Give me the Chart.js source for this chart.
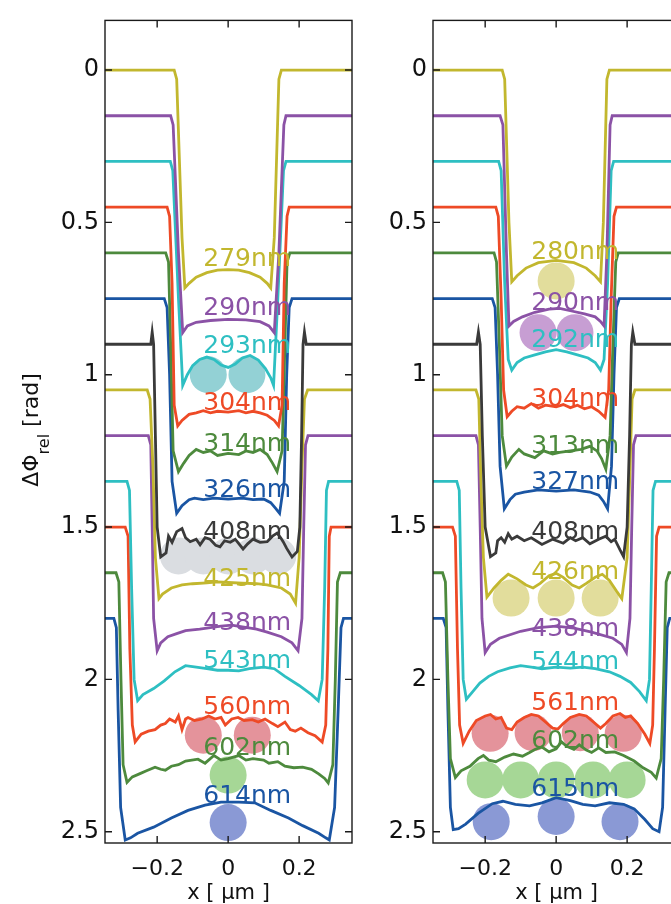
<!DOCTYPE html>
<html>
<head>
<meta charset="utf-8">
<script src="https://cdn.jsdelivr.net/npm/chart.js@4.4.1/dist/chart.umd.min.js"></script>
<style>
    html, body { margin: 0; padding: 0; background: #fff; overflow: hidden; }
    body { width: 671px; height: 904px; position: relative; }
    canvas { position: absolute; top: 0; }
    #chart-left { left: 0; }
    #chart-right { left: 370px; }
</style>
</head>
<body>
<canvas id="chart-left" width="360" height="904"></canvas>
<canvas id="chart-right" width="320" height="904"></canvas>
<script>
// ---- axes ----
const xTicks = [-0.2, 0, 0.2];
const xTickLabels = ['\u22120.2', '0', '0.2'];
const yTicks = [0, 0.5, 1, 1.5, 2, 2.5];
const yTickLabels = ['0', '0.5', '1', '1.5', '2', '2.5'];

// ---- left panel: phase profiles, [x (um), dPhi (rad)] ----
const left279 = [[-0.35,0],[-0.152,0],[-0.145,0.03],[-0.13,0.55],[-0.122,0.715],[-0.11,0.7],[-0.09,0.68],[-0.06,0.665],[-0.03,0.657],[0,0.655],[0.03,0.657],[0.06,0.665],[0.09,0.68],[0.11,0.7],[0.12,0.715],[0.13,0.55],[0.143,0.03],[0.15,0],[0.35,0]];
const left290 = [[-0.35,0.15],[-0.162,0.15],[-0.155,0.18],[-0.14,0.6],[-0.128,0.862],[-0.115,0.84],[-0.09,0.828],[-0.05,0.822],[0,0.818],[0.05,0.82],[0.09,0.826],[0.115,0.84],[0.13,0.862],[0.143,0.6],[0.157,0.18],[0.163,0.15],[0.35,0.15]];
const left293 = [[-0.35,0.3],[-0.163,0.3],[-0.156,0.33],[-0.14,0.75],[-0.128,1.035],[-0.115,1.0],[-0.1,0.97],[-0.08,0.95],[-0.06,0.942],[-0.04,0.95],[-0.02,0.968],[0,0.976],[0.02,0.965],[0.04,0.945],[0.062,0.937],[0.085,0.952],[0.105,0.98],[0.12,1.01],[0.128,1.035],[0.14,0.75],[0.156,0.33],[0.163,0.3],[0.35,0.3]];
const left304 = [[-0.35,0.45],[-0.172,0.45],[-0.165,0.48],[-0.158,0.7],[-0.152,1.1],[-0.142,1.168],[-0.13,1.15],[-0.11,1.13],[-0.09,1.125],[-0.07,1.118],[-0.05,1.125],[-0.03,1.12],[0,1.123],[0.03,1.118],[0.05,1.125],[0.07,1.12],[0.09,1.125],[0.11,1.133],[0.13,1.15],[0.142,1.168],[0.152,1.1],[0.158,0.7],[0.166,0.48],[0.172,0.45],[0.35,0.45]];
const left314 = [[-0.35,0.6],[-0.176,0.6],[-0.168,0.63],[-0.162,0.9],[-0.155,1.25],[-0.14,1.318],[-0.125,1.29],[-0.11,1.265],[-0.09,1.245],[-0.07,1.255],[-0.05,1.25],[-0.03,1.265],[0,1.258],[0.03,1.262],[0.05,1.25],[0.07,1.255],[0.09,1.245],[0.11,1.262],[0.125,1.29],[0.138,1.318],[0.152,1.25],[0.16,0.9],[0.166,0.63],[0.174,0.6],[0.35,0.6]];
const left326 = [[-0.35,0.75],[-0.18,0.75],[-0.172,0.78],[-0.165,1.0],[-0.158,1.35],[-0.145,1.455],[-0.13,1.43],[-0.11,1.41],[-0.095,1.405],[-0.07,1.41],[-0.04,1.405],[0,1.408],[0.04,1.405],[0.07,1.41],[0.1,1.408],[0.12,1.42],[0.135,1.44],[0.145,1.455],[0.158,1.35],[0.165,1.0],[0.172,0.78],[0.18,0.75],[0.35,0.75]];
const left408 = [[-0.35,0.9],[-0.218,0.9],[-0.214,0.86],[-0.21,0.9],[-0.205,1.2],[-0.2,1.5],[-0.19,1.598],[-0.175,1.585],[-0.168,1.53],[-0.158,1.55],[-0.145,1.515],[-0.13,1.505],[-0.12,1.535],[-0.107,1.548],[-0.09,1.54],[-0.079,1.558],[-0.065,1.535],[-0.051,1.54],[-0.035,1.56],[-0.023,1.565],[-0.01,1.545],[0.006,1.55],[0.02,1.54],[0.042,1.572],[0.055,1.555],[0.07,1.54],[0.09,1.55],[0.11,1.548],[0.125,1.53],[0.138,1.52],[0.148,1.535],[0.155,1.548],[0.165,1.57],[0.18,1.598],[0.195,1.58],[0.202,1.5],[0.207,1.2],[0.211,0.9],[0.215,0.86],[0.22,0.9],[0.35,0.9]];
const left425 = [[-0.35,1.05],[-0.228,1.05],[-0.22,1.08],[-0.212,1.3],[-0.205,1.6],[-0.195,1.735],[-0.185,1.72],[-0.16,1.7],[-0.13,1.69],[-0.1,1.686],[-0.06,1.683],[-0.03,1.68],[0,1.682],[0.04,1.684],[0.08,1.686],[0.11,1.69],[0.15,1.7],[0.175,1.72],[0.19,1.75],[0.2,1.6],[0.208,1.3],[0.215,1.08],[0.224,1.05],[0.35,1.05]];
const left438 = [[-0.35,1.2],[-0.225,1.2],[-0.218,1.23],[-0.214,1.5],[-0.21,1.8],[-0.2,1.906],[-0.19,1.88],[-0.17,1.86],[-0.145,1.85],[-0.12,1.84],[-0.08,1.835],[-0.05,1.83],[-0.02,1.825],[0.01,1.822],[0.04,1.828],[0.08,1.835],[0.11,1.845],[0.15,1.86],[0.18,1.88],[0.197,1.906],[0.208,1.8],[0.213,1.5],[0.218,1.23],[0.225,1.2],[0.35,1.2]];
const left543 = [[-0.35,1.35],[-0.285,1.35],[-0.278,1.38],[-0.272,1.7],[-0.265,2.0],[-0.255,2.07],[-0.24,2.05],[-0.21,2.03],[-0.18,2.005],[-0.15,1.975],[-0.12,1.955],[-0.09,1.96],[-0.06,1.965],[-0.03,1.97],[0,1.97],[0.03,1.972],[0.06,1.965],[0.1,1.96],[0.13,1.965],[0.16,1.99],[0.2,2.02],[0.235,2.05],[0.254,2.07],[0.265,2.0],[0.272,1.7],[0.277,1.38],[0.283,1.35],[0.35,1.35]];
const left560 = [[-0.35,1.5],[-0.29,1.5],[-0.282,1.53],[-0.277,1.9],[-0.27,2.15],[-0.262,2.205],[-0.245,2.18],[-0.225,2.17],[-0.206,2.165],[-0.19,2.15],[-0.177,2.145],[-0.165,2.13],[-0.149,2.14],[-0.14,2.12],[-0.13,2.165],[-0.12,2.13],[-0.113,2.125],[-0.095,2.135],[-0.073,2.13],[-0.055,2.12],[-0.037,2.13],[-0.02,2.125],[-0.008,2.15],[0.01,2.13],[0.028,2.125],[0.045,2.135],[0.068,2.132],[0.085,2.14],[0.104,2.13],[0.125,2.145],[0.14,2.155],[0.16,2.14],[0.175,2.165],[0.189,2.17],[0.205,2.16],[0.225,2.175],[0.245,2.185],[0.265,2.206],[0.275,2.15],[0.281,1.9],[0.285,1.53],[0.29,1.5],[0.35,1.5]];
const left602 = [[-0.35,1.65],[-0.316,1.65],[-0.308,1.68],[-0.302,2.0],[-0.296,2.28],[-0.285,2.338],[-0.27,2.32],[-0.25,2.31],[-0.23,2.3],[-0.206,2.288],[-0.19,2.295],[-0.177,2.298],[-0.16,2.285],[-0.14,2.28],[-0.12,2.268],[-0.085,2.262],[-0.065,2.275],[-0.04,2.25],[-0.02,2.265],[0,2.26],[0.03,2.25],[0.05,2.265],[0.07,2.26],[0.1,2.265],[0.115,2.275],[0.14,2.27],[0.16,2.285],[0.185,2.29],[0.21,2.288],[0.235,2.295],[0.255,2.31],[0.272,2.325],[0.282,2.34],[0.295,2.28],[0.302,2.0],[0.308,1.68],[0.316,1.65],[0.35,1.65]];
const left614 = [[-0.35,1.8],[-0.322,1.8],[-0.315,1.83],[-0.31,2.1],[-0.303,2.42],[-0.29,2.527],[-0.275,2.52],[-0.255,2.505],[-0.21,2.485],[-0.16,2.455],[-0.113,2.43],[-0.065,2.413],[-0.02,2.403],[0.03,2.403],[0.075,2.405],[0.12,2.43],[0.17,2.455],[0.21,2.48],[0.255,2.505],[0.275,2.52],[0.285,2.527],[0.3,2.42],[0.31,2.1],[0.318,1.83],[0.325,1.8],[0.35,1.8]];

const leftNames = ['279nm', '290nm', '293nm', '304nm', '314nm', '326nm', '408nm', '425nm', '438nm', '543nm', '560nm', '602nm', '614nm'];
const leftLabelY = [0.623, 0.783, 0.907, 1.093, 1.23, 1.381, 1.518, 1.671, 1.815, 1.942, 2.092, 2.226, 2.383];

// particle positions, left panel
const leftDots293 = [[-0.056, 1.0], [0.053, 1.0]];
const leftDots408 = [[-0.14, 1.595], [-0.07, 1.595], [0, 1.595], [0.07, 1.595], [0.14, 1.595]];
const leftDots560 = [[-0.07, 2.183], [0.068, 2.183]];
const leftDots602 = [[0, 2.314]];
const leftDots614 = [[0, 2.47]];

// ---- right panel ----
const right280 = [[-0.35,0],[-0.152,0],[-0.145,0.03],[-0.133,0.5],[-0.125,0.695],[-0.11,0.675],[-0.085,0.65],[-0.05,0.632],[0,0.625],[0.05,0.632],[0.085,0.65],[0.11,0.675],[0.125,0.695],[0.133,0.5],[0.143,0.03],[0.15,0],[0.35,0]];
const right290 = [[-0.35,0.15],[-0.158,0.15],[-0.15,0.18],[-0.14,0.6],[-0.133,0.84],[-0.12,0.825],[-0.095,0.81],[-0.06,0.795],[-0.02,0.785],[0.01,0.782],[0.04,0.79],[0.08,0.8],[0.11,0.81],[0.125,0.825],[0.135,0.84],[0.143,0.6],[0.152,0.18],[0.158,0.15],[0.35,0.15]];
const right292 = [[-0.35,0.3],[-0.162,0.3],[-0.155,0.33],[-0.145,0.7],[-0.135,0.95],[-0.125,0.985],[-0.11,0.96],[-0.09,0.945],[-0.06,0.935],[-0.03,0.925],[0,0.918],[0.03,0.925],[0.06,0.935],[0.09,0.945],[0.11,0.96],[0.125,0.985],[0.135,0.95],[0.145,0.7],[0.155,0.33],[0.162,0.3],[0.35,0.3]];
const right304 = [[-0.35,0.45],[-0.17,0.45],[-0.163,0.48],[-0.155,0.75],[-0.148,1.05],[-0.138,1.138],[-0.125,1.12],[-0.11,1.105],[-0.09,1.11],[-0.07,1.095],[-0.05,1.11],[-0.03,1.1],[0,1.105],[0.02,1.098],[0.04,1.108],[0.06,1.1],[0.08,1.112],[0.1,1.105],[0.12,1.12],[0.138,1.14],[0.148,1.05],[0.155,0.75],[0.163,0.48],[0.17,0.45],[0.35,0.45]];
const right313 = [[-0.35,0.6],[-0.175,0.6],[-0.168,0.63],[-0.16,0.9],[-0.152,1.2],[-0.14,1.3],[-0.125,1.27],[-0.105,1.245],[-0.09,1.26],[-0.06,1.272],[-0.035,1.25],[-0.01,1.26],[0.01,1.255],[0.04,1.25],[0.07,1.245],[0.095,1.235],[0.115,1.25],[0.128,1.275],[0.14,1.31],[0.152,1.2],[0.16,0.9],[0.168,0.63],[0.175,0.6],[0.35,0.6]];
const right327 = [[-0.35,0.75],[-0.18,0.75],[-0.172,0.78],[-0.165,1.0],[-0.158,1.3],[-0.146,1.44],[-0.13,1.41],[-0.115,1.392],[-0.09,1.385],[-0.05,1.378],[0,1.382],[0.05,1.378],[0.095,1.385],[0.12,1.395],[0.133,1.415],[0.145,1.44],[0.156,1.3],[0.163,1.0],[0.17,0.78],[0.178,0.75],[0.35,0.75]];
const right408 = [[-0.35,0.9],[-0.224,0.9],[-0.219,0.86],[-0.214,0.9],[-0.208,1.2],[-0.2,1.5],[-0.185,1.597],[-0.17,1.585],[-0.165,1.545],[-0.155,1.535],[-0.145,1.55],[-0.135,1.522],[-0.125,1.54],[-0.11,1.53],[-0.09,1.545],[-0.07,1.535],[-0.04,1.557],[-0.01,1.54],[0.02,1.553],[0.04,1.535],[0.055,1.545],[0.075,1.535],[0.095,1.555],[0.12,1.54],[0.14,1.53],[0.155,1.548],[0.165,1.54],[0.18,1.575],[0.19,1.597],[0.2,1.5],[0.207,1.2],[0.212,0.9],[0.216,0.86],[0.222,0.9],[0.35,0.9]];
const right426 = [[-0.35,1.05],[-0.226,1.05],[-0.218,1.08],[-0.212,1.35],[-0.205,1.6],[-0.195,1.73],[-0.175,1.7],[-0.155,1.675],[-0.135,1.655],[-0.11,1.67],[-0.085,1.69],[-0.065,1.7],[-0.045,1.685],[-0.02,1.66],[0,1.652],[0.02,1.665],[0.045,1.69],[0.065,1.7],[0.085,1.685],[0.11,1.665],[0.13,1.655],[0.15,1.675],[0.17,1.71],[0.185,1.735],[0.2,1.6],[0.207,1.35],[0.214,1.08],[0.222,1.05],[0.35,1.05]];
const right438 = [[-0.35,1.2],[-0.226,1.2],[-0.219,1.23],[-0.214,1.5],[-0.209,1.8],[-0.2,1.912],[-0.185,1.885],[-0.16,1.865],[-0.1,1.842],[-0.05,1.83],[0,1.825],[0.05,1.832],[0.1,1.845],[0.16,1.865],[0.185,1.885],[0.198,1.912],[0.208,1.8],[0.213,1.5],[0.218,1.23],[0.225,1.2],[0.35,1.2]];
const right544 = [[-0.35,1.35],[-0.28,1.35],[-0.273,1.38],[-0.268,1.7],[-0.262,2.0],[-0.253,2.065],[-0.235,2.04],[-0.215,2.012],[-0.19,1.99],[-0.165,1.975],[-0.13,1.962],[-0.1,1.955],[-0.07,1.96],[-0.04,1.965],[0,1.96],[0.04,1.963],[0.075,1.96],[0.11,1.965],[0.15,1.975],[0.18,1.99],[0.21,2.01],[0.235,2.04],[0.254,2.07],[0.263,2.0],[0.268,1.7],[0.273,1.38],[0.28,1.35],[0.35,1.35]];
const right561 = [[-0.35,1.5],[-0.292,1.5],[-0.284,1.53],[-0.278,1.9],[-0.272,2.15],[-0.262,2.21],[-0.245,2.17],[-0.225,2.135],[-0.2,2.12],[-0.185,2.115],[-0.17,2.13],[-0.155,2.125],[-0.14,2.16],[-0.125,2.165],[-0.11,2.14],[-0.09,2.125],[-0.07,2.115],[-0.05,2.12],[-0.03,2.14],[-0.01,2.16],[0.005,2.163],[0.02,2.145],[0.04,2.125],[0.065,2.115],[0.085,2.12],[0.105,2.14],[0.125,2.16],[0.14,2.145],[0.16,2.12],[0.18,2.112],[0.195,2.125],[0.21,2.12],[0.23,2.145],[0.25,2.18],[0.264,2.21],[0.272,2.15],[0.277,1.9],[0.283,1.53],[0.29,1.5],[0.35,1.5]];
const right602 = [[-0.35,1.65],[-0.32,1.65],[-0.312,1.68],[-0.305,2.0],[-0.298,2.26],[-0.284,2.322],[-0.268,2.3],[-0.243,2.285],[-0.22,2.26],[-0.205,2.25],[-0.19,2.265],[-0.17,2.27],[-0.145,2.255],[-0.12,2.245],[-0.095,2.252],[-0.075,2.24],[-0.06,2.23],[-0.04,2.222],[-0.02,2.238],[0,2.228],[0.015,2.205],[0.03,2.22],[0.05,2.23],[0.065,2.215],[0.085,2.232],[0.1,2.24],[0.12,2.225],[0.14,2.24],[0.165,2.238],[0.19,2.25],[0.22,2.268],[0.245,2.29],[0.268,2.305],[0.282,2.324],[0.296,2.26],[0.303,2.0],[0.31,1.68],[0.318,1.65],[0.35,1.65]];
const right615 = [[-0.35,1.8],[-0.318,1.8],[-0.31,1.83],[-0.305,2.1],[-0.298,2.42],[-0.29,2.493],[-0.275,2.49],[-0.255,2.475],[-0.22,2.44],[-0.18,2.408],[-0.15,2.4],[-0.115,2.41],[-0.075,2.415],[-0.04,2.405],[0,2.388],[0.04,2.398],[0.075,2.41],[0.11,2.415],[0.15,2.405],[0.19,2.41],[0.22,2.425],[0.25,2.46],[0.272,2.49],[0.29,2.5],[0.3,2.42],[0.307,2.1],[0.313,1.83],[0.32,1.8],[0.35,1.8]];

const rightNames = ['280nm', '290nm', '292nm', '304nm', '313nm', '327nm', '408nm', '426nm', '438nm', '544nm', '561nm', '602nm', '615nm'];
const rightLabelY = [0.6, 0.767, 0.888, 1.08, 1.237, 1.354, 1.518, 1.648, 1.837, 1.945, 2.079, 2.203, 2.36];

// particle positions, right panel
const rightDots280 = [[0, 0.692]];
const rightDots290 = [[-0.051, 0.862], [0.053, 0.862]];
const rightDots426 = [[-0.127, 1.733], [0, 1.733], [0.124, 1.733]];
const rightDots561 = [[-0.186, 2.177], [-0.065, 2.175], [0.068, 2.175], [0.189, 2.177]];
const rightDots602 = [[-0.2, 2.33], [-0.1, 2.33], [0, 2.33], [0.104, 2.33], [0.2, 2.33]];
const rightDots615 = [[-0.183, 2.467], [0, 2.45], [0.18, 2.467]];

const labelX = -0.07;

// ---- styles ----
const lineColors = ['#c2b72e', '#8b52a6', '#2ebfc2', '#ee4a26', '#4d8a3d', '#1a55a3', '#3a3a3a',
                    '#c2b72e', '#8b52a6', '#2ebfc2', '#ee4a26', '#4d8a3d', '#1a55a3'];
const dotColors = {
    yellow: '#e2dd9c', purple: '#c79ed3', cyan: '#93d1d5', gray: '#dadde1',
    red: '#e4939b', green: '#a6d796', blue: '#8a99d5'
};
const dotRadius = 18.5;
const FONT = '"DejaVu Sans", sans-serif';

// frame with inward tick marks on all four sides
const framePlugin = {
    id: 'frame',
    afterDatasetsDraw(chart) {
        const { ctx, chartArea: a, scales: { x, y } } = chart;
        const len = 7;
        ctx.save();
        ctx.strokeStyle = '#1a1a1a';
        ctx.lineWidth = 1.4;
        ctx.strokeRect(a.left, a.top, a.right - a.left, a.bottom - a.top);
        ctx.beginPath();
        xTicks.forEach(v => {
            const px = x.getPixelForValue(v);
            ctx.moveTo(px, a.bottom); ctx.lineTo(px, a.bottom - len);
            ctx.moveTo(px, a.top); ctx.lineTo(px, a.top + len);
        });
        yTicks.forEach(v => {
            const py = y.getPixelForValue(v);
            ctx.moveTo(a.left, py); ctx.lineTo(a.left + len, py);
            ctx.moveTo(a.right, py); ctx.lineTo(a.right - len, py);
        });
        ctx.stroke();
        ctx.restore();
    }
};

// wavelength labels next to each curve
const curveLabelPlugin = {
    id: 'curveLabels',
    afterDatasetsDraw(chart, args, opts) {
        const { ctx, scales: { x, y } } = chart;
        ctx.save();
        ctx.font = '25px ' + FONT;
        ctx.textAlign = 'left';
        ctx.textBaseline = 'middle';
        opts.names.forEach((name, i) => {
            ctx.fillStyle = lineColors[i];
            ctx.fillText(name, x.getPixelForValue(labelX), y.getPixelForValue(opts.labelY[i]));
        });
        ctx.restore();
    }
};

// rotated y title with subscript
const yTitlePlugin = {
    id: 'yTitle',
    afterDraw(chart, args, opts) {
        if (!opts.show) return;
        const { ctx } = chart;
        const mainFont = '22px ' + FONT;
        const subFont = '16px ' + FONT;
        ctx.save();
        ctx.font = mainFont;
        const w1 = ctx.measureText('\u0394\u03A6').width;
        const w3 = ctx.measureText(' [rad]').width;
        ctx.font = subFont;
        const w2 = ctx.measureText('rel').width;
        const total = w1 + w2 + w3;
        ctx.translate(38, 430);
        ctx.rotate(-Math.PI / 2);
        ctx.fillStyle = '#111';
        ctx.textBaseline = 'alphabetic';
        ctx.textAlign = 'left';
        let cx = -total / 2;
        ctx.font = mainFont;
        ctx.fillText('\u0394\u03A6', cx, 0);
        cx += w1;
        ctx.font = subFont;
        ctx.fillText('rel', cx, 11);
        cx += w2;
        ctx.font = mainFont;
        ctx.fillText(' [rad]', cx, 0);
        ctx.restore();
    }
};

function toPoints(arr) {
    return arr.map(([x, y]) => ({ x, y }));
}

function makeChart(canvasId, series, names, labelY, dotGroups, opts) {
    const datasets = [];
    series.forEach((s, i) => {
        datasets.push({
            type: 'scatter',
            data: toPoints(s),
            showLine: true,
            borderColor: lineColors[i],
            borderWidth: 2.8,
            pointRadius: 0,
            tension: 0,
            order: 0
        });
    });
    dotGroups.forEach(g => {
        datasets.push({
            type: 'bubble',
            data: g.pts.map(([x, y]) => ({ x, y, r: dotRadius })),
            backgroundColor: g.color,
            borderWidth: 0,
            order: 1
        });
    });

    const ctx = document.getElementById(canvasId).getContext('2d');
    return new Chart(ctx, {
        type: 'scatter',
        data: { datasets },
        options: {
            responsive: false,
            animation: false,
            events: [],
            layout: {
                autoPadding: false,
                padding: { top: 16, right: opts.padRight, left: 0, bottom: 0 }
            },
            plugins: {
                legend: { display: false },
                tooltip: { enabled: false },
                curveLabels: { names, labelY },
                yTitle: { show: opts.yTitle }
            },
            scales: {
                x: {
                    type: 'linear',
                    min: -0.347,
                    max: 0.349,
                    afterBuildTicks: axis => { axis.ticks = xTicks.map(v => ({ value: v })); },
                    afterFit: axis => { axis.height = 61; },
                    grid: { display: false, drawTicks: false },
                    border: { display: false },
                    ticks: {
                        padding: 13,
                        color: '#111',
                        maxRotation: 0,
                        autoSkip: false,
                        font: { family: FONT, size: 22 },
                        callback: (v, i) => xTickLabels[i]
                    },
                    title: {
                        display: true,
                        text: 'x [ \u03BCm ]',
                        color: '#111',
                        padding: 0,
                        font: { family: FONT, size: 21, lineHeight: 1 }
                    }
                },
                y: {
                    type: 'linear',
                    reverse: true,
                    min: -0.163,
                    max: 2.537,
                    afterBuildTicks: axis => { axis.ticks = yTicks.map(v => ({ value: v })); },
                    afterFit: axis => { axis.width = opts.yWidth; },
                    grid: { display: false, drawTicks: false },
                    border: { display: false },
                    ticks: {
                        padding: 6,
                        color: '#111',
                        font: { family: FONT, size: 24 },
                        callback: (v, i) => yTickLabels[i]
                    }
                }
            }
        },
        plugins: [framePlugin, curveLabelPlugin, yTitlePlugin]
    });
}

makeChart('chart-left',
    [left279, left290, left293, left304, left314, left326, left408, left425, left438, left543, left560, left602, left614],
    leftNames, leftLabelY,
    [
        { pts: leftDots293, color: dotColors.cyan },
        { pts: leftDots408, color: dotColors.gray },
        { pts: leftDots560, color: dotColors.red },
        { pts: leftDots602, color: dotColors.green },
        { pts: leftDots614, color: dotColors.blue }
    ],
    { padRight: 8, yWidth: 105, yTitle: true });

makeChart('chart-right',
    [right280, right290, right292, right304, right313, right327, right408, right426, right438, right544, right561, right602, right615],
    rightNames, rightLabelY,
    [
        { pts: rightDots280, color: dotColors.yellow },
        { pts: rightDots290, color: dotColors.purple },
        { pts: rightDots426, color: dotColors.yellow },
        { pts: rightDots561, color: dotColors.red },
        { pts: rightDots602, color: dotColors.green },
        { pts: rightDots615, color: dotColors.blue }
    ],
    { padRight: 10, yWidth: 63, yTitle: false });
</script>
</body>
</html>
